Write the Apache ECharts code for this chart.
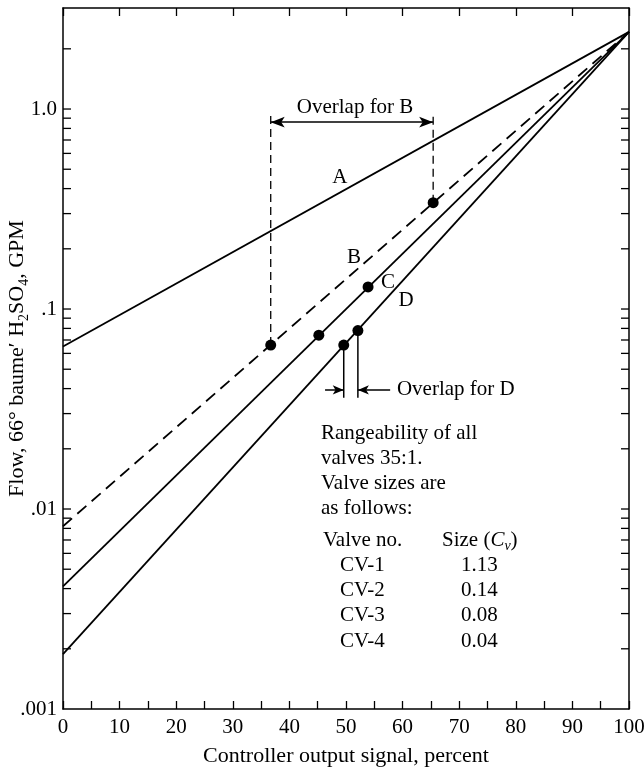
<!DOCTYPE html>
<html>
<head>
<meta charset="utf-8">
<script src="https://cdn.jsdelivr.net/npm/echarts@6/dist/echarts.min.js"></script>
<style>
html, body { margin: 0; padding: 0; background: #fff; }
#main { width: 644px; height: 771px; }
</style>
</head>
<body>
<div id="main"></div>
<script>
// values
const signal = [0, 100];
const flowA = [0.065, 2.43];
const flowB = [0.0082, 2.43];
const flowC = [0.0041, 2.43];
const flowD = [0.00188, 2.43];
const dotsB = [[36.7, 0.066], [65.4, 0.34]];
const dotsC = [[45.2, 0.074], [53.9, 0.129]];
const dotsD = [[49.6, 0.066], [52.1, 0.078]];
const overlapBTop = [0.966, 0.93];
const overlapBArrowY = 0.86;
const overlapDBottom = 0.036;
const overlapDArrowY = 0.0394;
const overlapDTails = [46.3, 57.8];
const lineNames = ['A', 'B', 'C', 'D'];
const lineLabelPos = [[48.9, 0.457], [51.4, 0.18], [57.4, 0.135], [60.6, 0.11]];
const valveNo = ['CV-1', 'CV-2', 'CV-3', 'CV-4'];
const valveCv = ['1.13', '0.14', '0.08', '0.04'];
const noteLines = ['Rangeability of all', 'valves 35:1.', 'Valve sizes are', 'as follows:'];

const FONT = 'Liberation Serif';
const FS = 21;
const black = '#000';

// log minor ticks 2..9 for every decade
var yTicks = [];
[0.001, 0.01, 0.1, 1].forEach(function (d) {
    for (var k = 1; k <= 9; k++) {
        var v = +(d * k).toPrecision(3);
        if (v > 0.001 && v <= 2) yTicks.push([0, v]);
    }
});

function toPts(ys) {
    return signal.map(function (x, i) { return [x, ys[i]]; });
}

function fmtFlow(v) {
    var e = Math.log10(v);
    if (Math.abs(e - Math.round(e)) > 1e-6 || v > 1.5) return '';
    if (v >= 1) return '1.0';
    return String(+v.toPrecision(1)).replace('0.', '.');
}

var myChart = echarts.init(document.getElementById('main'));

var solid = { color: black, width: 1.8 };
var txt = { color: black, fontFamily: FONT, fontSize: FS, textBorderWidth: 0, opacity: 1 };

var option = {
    animation: false,
    backgroundColor: '#fff',
    textStyle: { fontFamily: FONT, color: black },
    grid: { left: 63, right: 15, top: 8, bottom: 62, containLabel: false, outerBoundsMode: 'none' },
    xAxis: [
        {
            type: 'value', min: 0, max: 100, interval: 10, position: 'bottom',
            axisLine: { show: true, lineStyle: { color: black, width: 1.5 } },
            axisTick: { show: true, inside: true, length: 8, lineStyle: { color: black, width: 1.3 } },
            minorTick: { show: true, splitNumber: 2, length: 8, lineStyle: { color: black, width: 1.3 } },
            splitLine: { show: false },
            axisLabel: { color: black, fontFamily: FONT, fontSize: FS, margin: 8 },
            name: 'Controller output signal, percent',
            nameLocation: 'middle', nameGap: 36, nameMoveOverlap: false,
            nameTextStyle: { color: black, fontFamily: FONT, fontSize: 22 }
        },
        {
            type: 'value', min: 0, max: 100, interval: 10, position: 'top',
            axisLine: { show: true, onZero: false, lineStyle: { color: black, width: 1.5 } },
            axisTick: { show: true, inside: true, length: 8, lineStyle: { color: black, width: 1.3 } },
            splitLine: { show: false },
            axisLabel: { show: false }
        }
    ],
    yAxis: [
        {
            type: 'log', logBase: 10, min: 0.001, max: 3.2, position: 'left',
            axisLine: { show: true, lineStyle: { color: black, width: 1.5 } },
            axisTick: { show: false },
            splitLine: { show: false },
            axisLabel: { color: black, fontFamily: FONT, fontSize: FS, margin: 6, formatter: fmtFlow },
            name: 'Flow, 66° baume′ H{s|2}SO{s|4}, GPM',
            nameLocation: 'middle', nameGap: 32, nameMoveOverlap: false,
            nameTextStyle: {
                color: black, fontFamily: FONT, fontSize: 22,
                rich: { s: { fontFamily: FONT, fontSize: 14, color: black, padding: [13, 0, 0, 0] } }
            }
        },
        {
            type: 'log', logBase: 10, min: 0.001, max: 3.2, position: 'right',
            axisLine: { show: true, onZero: false, lineStyle: { color: black, width: 1.5 } },
            axisTick: { show: false },
            splitLine: { show: false },
            axisLabel: { show: false }
        }
    ],
    series: [
        {
            type: 'custom', name: 'yticks', data: yTicks, silent: true,
            renderItem: function (params, api) {
                var v = api.value(1);
                var l = api.coord([0, v]);
                var r = api.coord([100, v]);
                return {
                    type: 'group', children: [
                        { type: 'line', shape: { x1: l[0], y1: l[1], x2: l[0] + 8, y2: l[1] }, style: { stroke: black, lineWidth: 1.3 } },
                        { type: 'line', shape: { x1: r[0] - 8, y1: r[1], x2: r[0], y2: r[1] }, style: { stroke: black, lineWidth: 1.3 } }
                    ]
                };
            }
        },
        { type: 'line', name: 'A', data: toPts(flowA), symbol: 'none', lineStyle: solid, silent: true },
        { type: 'line', name: 'B', data: toPts(flowB), symbol: 'none', lineStyle: { color: black, width: 1.8, type: [12, 7] }, silent: true },
        { type: 'line', name: 'C', data: toPts(flowC), symbol: 'none', lineStyle: solid, silent: true },
        { type: 'line', name: 'D', data: toPts(flowD), symbol: 'none', lineStyle: solid, silent: true },
        // overlap for B
        {
            type: 'line', data: [[dotsB[0][0], dotsB[0][1]], [dotsB[0][0], overlapBTop[0]]],
            symbol: 'none', lineStyle: { color: black, width: 1.3, type: [8, 5] }, silent: true,
            markLine: {
                silent: true, symbol: ['arrow', 'arrow'], symbolSize: [8, 14],
                label: { show: false },
                itemStyle: { color: black },
                lineStyle: { color: black, width: 1.5, type: 'solid' },
                data: [[{ coord: [dotsB[0][0], overlapBArrowY] }, { coord: [dotsB[1][0], overlapBArrowY] }]]
            }
        },
        {
            type: 'line', data: [[dotsB[1][0], dotsB[1][1]], [dotsB[1][0], overlapBTop[1]]],
            symbol: 'none', lineStyle: { color: black, width: 1.3, type: [8, 5] }, silent: true
        },
        // overlap for D
        {
            type: 'line', data: [[dotsD[0][0], dotsD[0][1]], [dotsD[0][0], overlapDBottom]],
            symbol: 'none', lineStyle: { color: black, width: 1.5 }, silent: true,
            markLine: {
                silent: true, symbol: ['none', 'arrow'], symbolSize: [7, 11],
                label: { show: false },
                itemStyle: { color: black },
                lineStyle: { color: black, width: 1.5, type: 'solid' },
                data: [
                    [{ coord: [overlapDTails[0], overlapDArrowY] }, { coord: [dotsD[0][0], overlapDArrowY] }],
                    [{ coord: [overlapDTails[1], overlapDArrowY] }, { coord: [dotsD[1][0], overlapDArrowY] }]
                ]
            }
        },
        {
            type: 'line', data: [[dotsD[1][0], dotsD[1][1]], [dotsD[1][0], overlapDBottom]],
            symbol: 'none', lineStyle: { color: black, width: 1.5 }, silent: true
        },
        {
            type: 'scatter', name: 'dots', data: dotsB.concat(dotsC, dotsD),
            symbol: 'circle', symbolSize: 11, itemStyle: { color: black, opacity: 1 }, silent: true, z: 5
        },
        {
            type: 'scatter', name: 'labels', symbolSize: 0, silent: true,
            itemStyle: { color: black, opacity: 1 },
            data: lineNames.map(function (n, i) { return { name: n, value: lineLabelPos[i] }; })
                .concat([{ name: 'Overlap for B', value: [51.6, 1.02] }]),
            label: Object.assign({ show: true, position: 'inside', formatter: '{b}' }, txt)
        },
        {
            type: 'scatter', name: 'labelD', symbolSize: 0, silent: true,
            itemStyle: { color: black, opacity: 1 },
            data: [{ name: 'Overlap for D', value: [59.0, overlapDArrowY] }],
            label: Object.assign({ show: true, position: 'right', distance: 0, formatter: '{b}' }, txt)
        }
    ],
    graphic: []
};

var font = FS + 'px "' + FONT + '"';
var g = [];
noteLines.forEach(function (t, i) {
    g.push({ type: 'text', x: 321, y: [433, 458, 483, 508][i], style: { text: t, font: font, fill: black, verticalAlign: 'middle' } });
});
g.push({ type: 'text', x: 323, y: 540, style: { text: 'Valve no.', font: font, fill: black, verticalAlign: 'middle' } });
g.push({
    type: 'text', x: 442, y: 540,
    style: {
        text: 'Size ({i|C}{v|v})', font: font, fill: black, verticalAlign: 'middle',
        rich: {
            i: { fontFamily: FONT, fontSize: FS, fontStyle: 'italic', fill: black },
            v: { fontFamily: FONT, fontSize: 14, fontStyle: 'italic', fill: black, padding: [12, 0, 0, 0] }
        }
    }
});
valveNo.forEach(function (t, i) {
    var y = [565, 590, 615, 641][i];
    g.push({ type: 'text', x: 340, y: y, style: { text: t, font: font, fill: black, verticalAlign: 'middle' } });
    g.push({ type: 'text', x: 461, y: y, style: { text: valveCv[i], font: font, fill: black, verticalAlign: 'middle' } });
});
option.graphic = g;

myChart.setOption(option);
</script>
</body>
</html>
